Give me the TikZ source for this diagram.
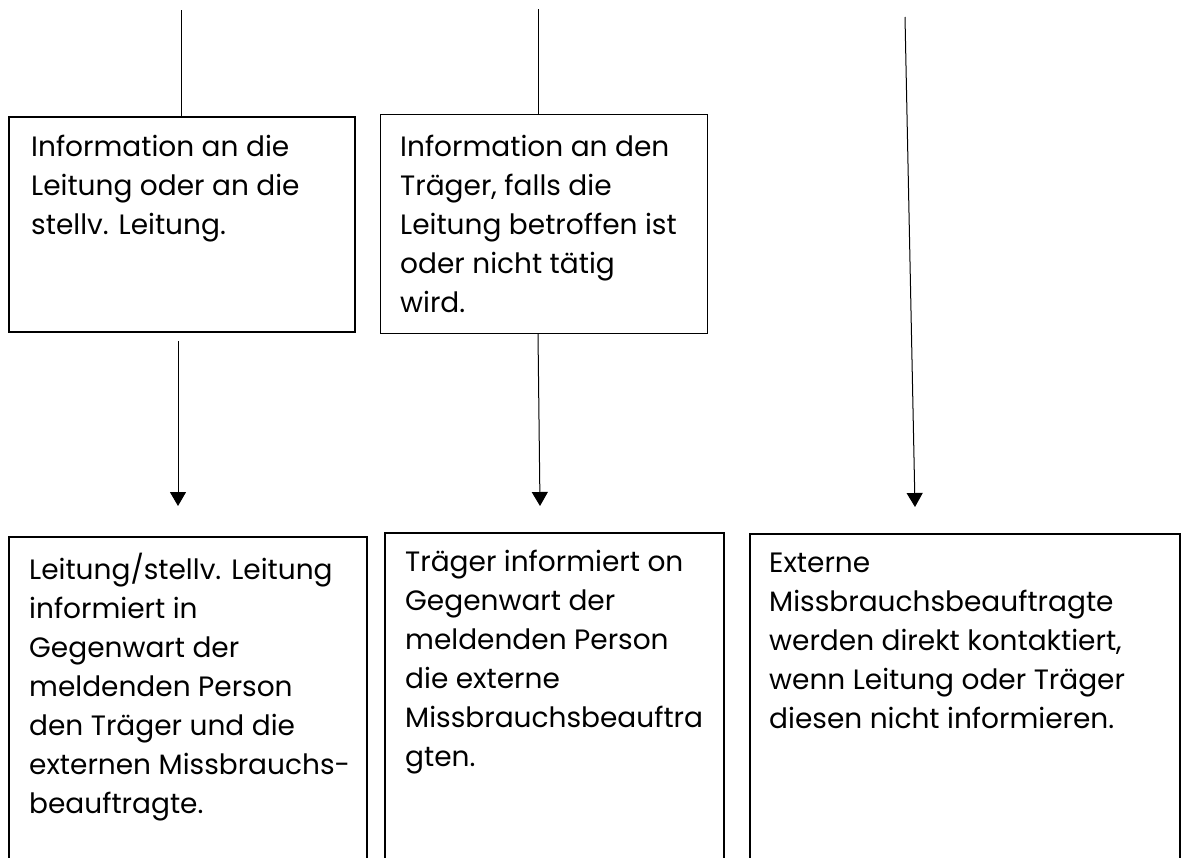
\documentclass[tikz,border=0pt]{standalone}
\usepackage{fontspec}
\setmainfont{Poppins}
\usetikzlibrary{arrows.meta}
\tikzset{
  box/.style={draw, rectangle, anchor=north west, inner sep=0pt},
  txt/.style={anchor=north west, align=left, inner sep=0pt, font=\fontsize{28}{39}\selectfont},
  flow/.style={-{Triangle[width=16pt,length=14pt]}},
}
\begin{document}
\begin{tikzpicture}[x=1pt,y=-1pt]
	\clip (0,0) rectangle (1181,857);

	% upper boxes
	\node[box, line width=2pt, minimum width=346pt, minimum height=215pt] (leitung) at (8,116) {};
	\node[box, line width=1pt, minimum width=327pt, minimum height=219pt] (traeger) at (380,114) {};
	\node[txt] (leitungtxt) at (31,135) {Information an die\\Leitung oder an die\\stellv. Leitung.};
	\node[txt] (traegertxt) at (400,135) {Information an den\\Tr\"ager, falls die\\Leitung betroffen ist\\oder nicht t\"atig\\wird.};

	% lower boxes (open at the bottom)
	\node[box, line width=1.7pt, minimum width=358pt, minimum height=340pt] (meldung) at (8,536) {};
	\node[box, line width=1.5pt, minimum width=339pt, minimum height=340pt] (infotr) at (384,532) {};
	\node[box, line width=1.5pt, minimum width=430pt, minimum height=340pt] (extern) at (749,533) {};
	\node[txt] (meldungtxt) at (29,553) {Leitung/stellv. Leitung\\informiert in\\Gegenwart der\\meldenden Person\\den Tr\"ager und die\\externen Missbrauchs-\\beauftragte.};
	\node[txt] (infotrtxt) at (405,550) {Tr\"ager informiert on\\Gegenwart der\\meldenden Person\\die externe\\Missbrauchsbeauftra\\gten.};
	\node[txt] (externtxt) at (769,553) {Externe\\Missbrauchsbeauftragte\\werden direkt kontaktiert,\\wenn Leitung oder Tr\"ager\\diesen nicht informieren.};

	% free ends
	\coordinate (a0) at (181,10);
	\coordinate (b0) at (538,9);
	\coordinate (c0) at (905,17);
	\coordinate (a1) at (178,341);
	\coordinate (a2) at (178,506);
	\coordinate (b2) at (540,506);
	\coordinate (c2) at (915,507);

	\draw[line width=1pt] (a0) -- (a0 |- leitung.north);
	\draw[line width=1pt] (b0) -- (b0 |- traeger.north);
	\draw[line width=1pt, flow] (a1) -- (a2);
	\draw[line width=1pt, flow] (b0 |- traeger.south) -- (b2);
	\draw[line width=1pt, flow] (c0) -- (c2);
\end{tikzpicture}
\end{document}
